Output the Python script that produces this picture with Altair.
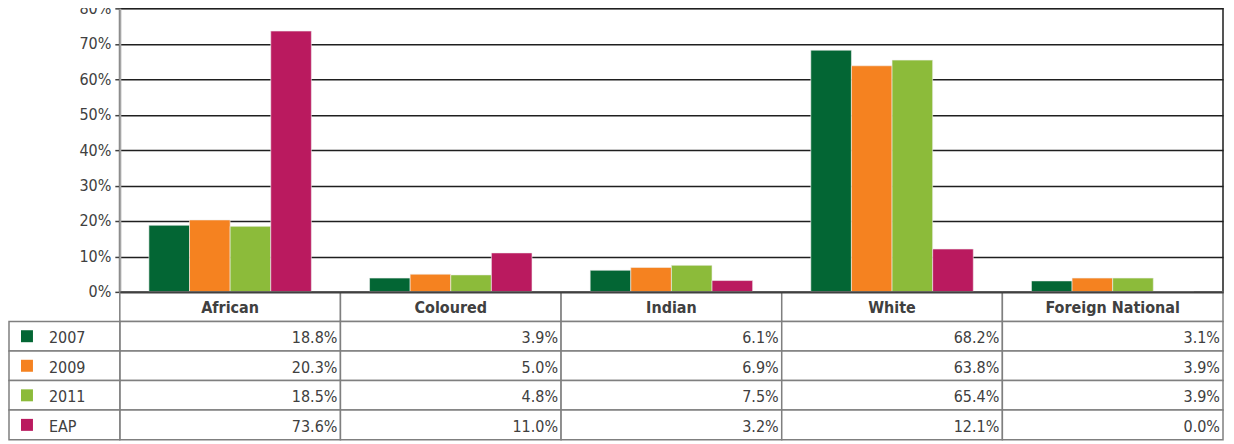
import altair as alt
import pandas as pd

categories = ["African", "Coloured", "Indian", "White", "Foreign National"]
series = ["2007", "2009", "2011", "EAP"]
colors = ["#036634", "#F58220", "#8CBB3A", "#BA1A5F"]
values_2007 = [18.8, 3.9, 6.1, 68.2, 3.1]
values_2009 = [20.3, 5.0, 6.9, 63.8, 3.9]
values_2011 = [18.5, 4.8, 7.5, 65.4, 3.9]
values_eap = [73.6, 11.0, 3.2, 12.1, 0.0]
y_ticks = [0, 10, 20, 30, 40, 50, 60, 70, 80]

rows = []
for s, vals in zip(series, [values_2007, values_2009, values_2011, values_eap]):
    for c, v in zip(categories, vals):
        rows.append({"category": c, "series": s, "value": v, "label": f"{v:.1f}%"})
df = pd.DataFrame(rows)
hdr = pd.DataFrame({"category": categories, "series": ["hdr"] * len(categories)})
cells_df = pd.concat([hdr, df[["category", "series"]]], ignore_index=True)
left_df = pd.DataFrame({"series": series})

FONT = "DejaVu Sans Condensed"
TXT = "#404040"
W = 1105

xscale = alt.Scale(domain=categories, paddingInner=0, paddingOuter=0)
color_scale = alt.Scale(domain=series, range=colors)
row_scale = alt.Scale(domain=["hdr"] + series, paddingInner=0, paddingOuter=0)

bars = alt.Chart(df).mark_bar(stroke="#f0f0f0", strokeWidth=0.6).encode(
    x=alt.X("category:N", scale=xscale, axis=None, sort=categories),
    xOffset=alt.XOffset("series:N", scale=alt.Scale(domain=series, paddingInner=0, paddingOuter=0.716)),
    y=alt.Y("value:Q", title=None,
            scale=alt.Scale(domain=[0, 80], nice=False),
            axis=alt.Axis(values=y_ticks, labelExpr="datum.value + '%'",
                          labelFont=FONT, labelFontSize=16, labelColor=TXT,
                          tickSize=5, tickColor="#404040", tickWidth=1.5,
                          domainColor="#a6a6a6", domainWidth=2,
                          gridColor="#1f1f1f", gridWidth=1.5, labelPadding=4)),
    color=alt.Color("series:N", scale=color_scale, legend=None),
).properties(width=W, height=284, view=alt.ViewBackground(stroke="#555555", strokeWidth=2))

cells = alt.Chart(cells_df).mark_rect(fill="white", stroke="#7f7f7f", strokeWidth=1.5).encode(
    x=alt.X("category:N", scale=xscale, sort=categories, title=None,
            axis=alt.Axis(orient="top", labels=False, ticks=False, domainColor="#404040",
                          domainWidth=2, zindex=1)),
    y=alt.Y("series:N", scale=row_scale, axis=None),
)

left_cells = alt.Chart(left_df).mark_rect(fill="white", stroke="#7f7f7f", strokeWidth=1.5).encode(
    x=alt.value(-111), x2=alt.value(0),
    y=alt.Y("series:N", scale=row_scale, axis=None),
)

squares = alt.Chart(left_df).mark_square(size=144, opacity=1).encode(
    x=alt.value(-93),
    y=alt.Y("series:N", scale=row_scale, axis=None),
    color=alt.Color("series:N", scale=color_scale, legend=None),
)

left_labels = alt.Chart(left_df).mark_text(align="left", font=FONT, fontSize=16, color=TXT, dy=2).encode(
    x=alt.value(-71),
    y=alt.Y("series:N", scale=row_scale, axis=None),
    text="series:N",
)

hdr_text = alt.Chart(hdr).mark_text(font=FONT, fontSize=16, fontWeight="bold", color=TXT, dy=1).encode(
    x=alt.X("category:N", scale=xscale, sort=categories),
    y=alt.Y("series:N", scale=row_scale, axis=None),
    text="category:N",
)

value_text = alt.Chart(df).mark_text(align="right", dx=-3, dy=2, font=FONT, fontSize=16, color=TXT).encode(
    x=alt.X("category:N", scale=xscale, sort=categories, bandPosition=1),
    y=alt.Y("series:N", scale=row_scale, axis=None),
    text="label:N",
)

table = alt.layer(cells, left_cells, squares, left_labels, hdr_text, value_text).properties(
    width=W, height=148)

chart = alt.vconcat(bars, table, spacing=0, bounds="flush").properties(
    padding={"top": -9, "left": 0, "right": 2, "bottom": 0}
).configure_view(strokeWidth=0)

chart.save("out.html", embed_options={"renderer": "svg", "actions": False})
